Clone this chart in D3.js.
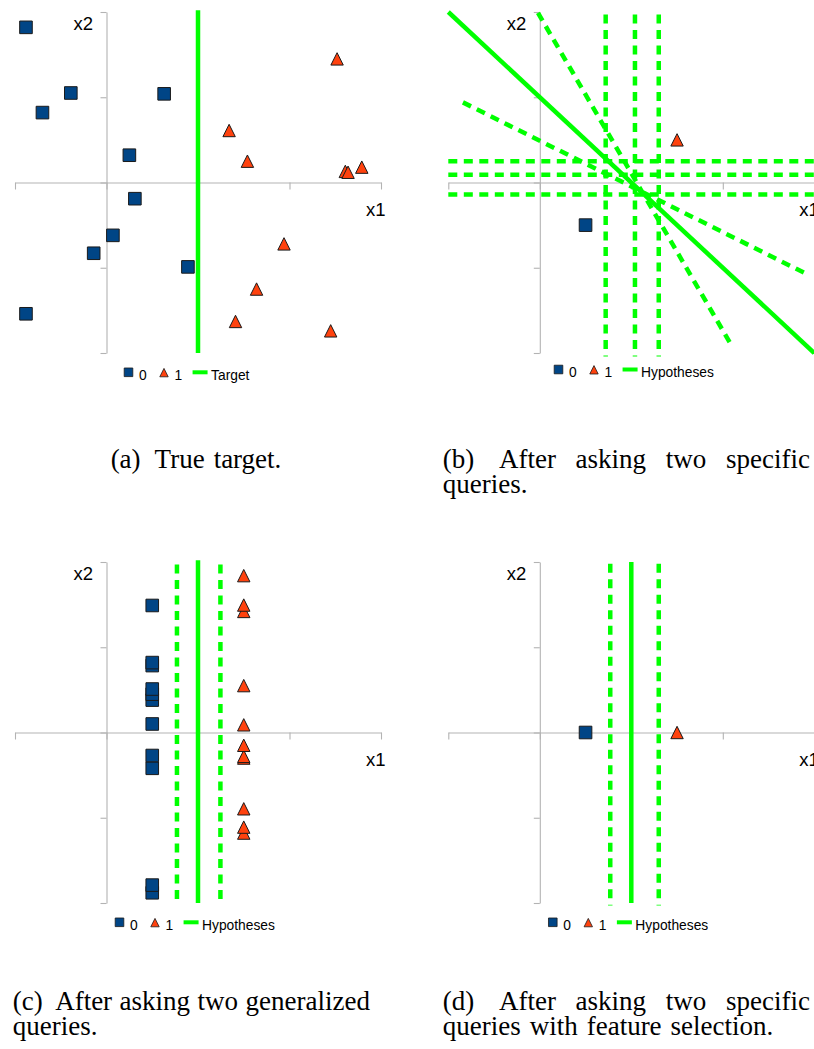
<!DOCTYPE html>
<html>
<head>
<meta charset="utf-8">
<script src="https://cdn.jsdelivr.net/npm/d3@7"></script>
<style>
  html, body { margin: 0; padding: 0; background: #fff; }
  svg { display: block; }
  .axis-label { font-family: "Liberation Sans", Arial, sans-serif; font-size: 18.5px; fill: #000; }
  .legend-text { font-family: "Liberation Sans", Arial, sans-serif; font-size: 13.8px; fill: #000; }
  .cap { font-family: "Liberation Serif", "Times New Roman", serif; font-size: 27px; fill: #000; }
</style>
</head>
<body>
<svg id="fig" width="814" height="1049"></svg>
<script>
// ---------- data ----------
const axisTicksX = [-1, 0, 1, 2, 3];
const axisTicksY = [-2, -1, 0, 1, 2];
const classLabels = ["0", "1"];
const axisNames = ["x1", "x2"];

// (a) true target: labelled points and the target boundary x1 = 1
const targetClass0 = [[-0.88, 1.82], [-0.39, 1.05], [-0.70, 0.82], [0.63, 1.04], [0.25, 0.32],
                      [0.31, -0.19], [0.07, -0.62], [-0.14, -0.83], [0.89, -0.99], [-0.88, -1.54]];
const targetClass1 = [[2.52, 1.45], [1.34, 0.61], [1.54, 0.25], [2.61, 0.13], [2.64, 0.12],
                      [2.79, 0.18], [1.94, -0.72], [1.64, -1.25], [1.41, -1.63], [2.45, -1.74]];
const targetSolid = [[1, 2.02, 1, -2]];
const targetDashed = [];

// (b) two specific queries: many consistent hypotheses remain
const specificClass0 = [[0.5, -0.5]];
const specificClass1 = [[1.5, 0.5]];
const specificSolid = [[-1, 2, 3, -2]];
const specificDashed = [
  [0.72, 1.97, 0.72, -2.04], [1.04, 1.97, 1.04, -2.04], [1.30, 1.97, 1.30, -2.04],
  [-1, 0.25, 3, 0.25], [-1, 0.09, 3, 0.09], [-1, -0.14, 3, -0.14],
  [-0.02, 1.99, 2.10, -1.92], [-0.84, 0.94, 2.91, -1.07]
];

// (c) two generalized queries (listed bottom-up so upper markers sit on top)
const generalizedClass0 = [[0.5, -1.88], [0.5, -1.79], [0.5, -0.42], [0.5, -0.27], [0.5, 0.10],
                           [0.5, 0.38], [0.5, 0.45], [0.5, 0.51], [0.5, 0.785], [0.5, 0.82], [0.5, 1.49]];
const generalizedClass1 = [[1.5, -1.18], [1.5, -1.11], [1.5, -0.895], [1.5, -0.30], [1.5, -0.28],
                           [1.5, -0.15], [1.5, 0.09], [1.5, 0.55], [1.5, 1.42], [1.5, 1.495], [1.5, 1.84]];
const generalizedSolid = [[1.0, 2.02, 1.0, -2]];
const generalizedDashed = [[0.77, 1.97, 0.77, -2.03], [1.245, 1.97, 1.245, -2.03]];

// (d) two specific queries with feature selection
const featureClass0 = [[0.5, 0]];
const featureClass1 = [[1.5, 0]];
const featureSolid = [[1.0, 2.0, 1.0, -2]];
const featureDashed = [[0.77, 1.98, 0.77, -2.03], [1.30, 1.98, 1.30, -2.03]];

const legendLineLabels = ["Target", "Hypotheses", "Hypotheses", "Hypotheses"];

const captionA = [["(a)", "True", "target."]];
const captionB = [["(b)", "After", "asking", "two", "specific"], ["queries."]];
const captionC = [["(c)", "After", "asking", "two", "generalized"], ["queries."]];
const captionD = [["(d)", "After", "asking", "two", "specific"], ["queries", "with", "feature", "selection."]];

// ---------- drawing ----------
const COLORS = { c0: "#004586", c1: "#ff420e", hyp: "#00ff00", axis: "#b3b3b3", edge: "#1a1a1a" };

const svg = d3.select("#fig");
const x = d3.scaleLinear().domain([-1, 3]).range([15, 381]);
const y = d3.scaleLinear().domain([-2, 2]).range([353, 12]);

const squarePath = s => d3.symbol(d3.symbolSquare, s * s)();
const trianglePath = s => { const h = s / 2; return `M0,${-h}L${h},${h}L${-h},${h}Z`; };

const panels = [
  { dx: 0,     dy: 0,   c0: targetClass0,      c1: targetClass1,      solid: targetSolid,      dashed: targetDashed,      legendX: 124,   legendY: 372.3 },
  { dx: 433.3, dy: 0,   c0: specificClass0,    c1: specificClass1,    solid: specificSolid,    dashed: specificDashed,    legendX: 120.7, legendY: 369.5 },
  { dx: 0,     dy: 550, c0: generalizedClass0, c1: generalizedClass1, solid: generalizedSolid, dashed: generalizedDashed, legendX: 115,   legendY: 372.3 },
  { dx: 433.3, dy: 550, c0: featureClass0,     c1: featureClass1,     solid: featureSolid,     dashed: featureDashed,     legendX: 115,   legendY: 372.3 }
];

panels.forEach((p, pi) => {
  const g = svg.append("g").attr("transform", `translate(${p.dx},${p.dy})`);

  // axes crossing at the origin
  const gx = g.append("g").attr("transform", `translate(0,${y(0)})`)
    .call(d3.axisBottom(x).tickValues(axisTicksX).tickSize(7).tickSizeOuter(0).tickFormat(""));
  const gy = g.append("g").attr("transform", `translate(${x(0)},0)`)
    .call(d3.axisLeft(y).tickValues(axisTicksY).tickSize(6).tickSizeOuter(0).tickFormat(""));
  [gx, gy].forEach(a => a.selectAll("path, line").attr("stroke", COLORS.axis).attr("stroke-width", 1.1));

  g.append("text").attr("class", "axis-label")
    .attr("x", x(0) - 13.5).attr("y", 29.5).attr("text-anchor", "end").text(axisNames[1]);
  g.append("text").attr("class", "axis-label")
    .attr("x", x(3) - 15).attr("y", y(0) + 33).text(axisNames[0]);

  // hypothesis lines
  const seg = (sel, data, dashed) => sel.selectAll(null).data(data).join("line")
    .attr("x1", d => x(d[0])).attr("y1", d => y(d[1]))
    .attr("x2", d => x(d[2])).attr("y2", d => y(d[3]))
    .attr("stroke", COLORS.hyp).attr("stroke-width", 4.5)
    .attr("stroke-dasharray", dashed ? "9,6.5" : null);
  seg(g.append("g"), p.dashed, true);
  seg(g.append("g"), p.solid, false);

  // labelled points
  g.append("g").selectAll("path").data(p.c0).join("path")
    .attr("transform", d => `translate(${x(d[0])},${y(d[1])})`)
    .attr("d", squarePath(12.6))
    .attr("fill", COLORS.c0).attr("stroke", COLORS.edge).attr("stroke-width", 1);
  g.append("g").selectAll("path").data(p.c1).join("path")
    .attr("transform", d => `translate(${x(d[0])},${y(d[1])})`)
    .attr("d", trianglePath(12.4))
    .attr("fill", COLORS.c1).attr("stroke", COLORS.edge).attr("stroke-width", 1);

  // legend
  const lg = g.append("g").attr("transform", `translate(${p.legendX},${p.legendY})`);
  let cx = 0;
  lg.append("path").attr("transform", `translate(${cx + 4.5},0)`).attr("d", squarePath(8.6))
    .attr("fill", COLORS.c0).attr("stroke", COLORS.edge).attr("stroke-width", 0.8);
  cx += 9 + 6;
  let t = lg.append("text").attr("class", "legend-text").attr("x", cx).attr("y", 7.3).text(classLabels[0]);
  cx += t.node().getComputedTextLength() + 13;
  lg.append("path").attr("transform", `translate(${cx + 4.3},0.3)`).attr("d", trianglePath(8.4))
    .attr("fill", COLORS.c1).attr("stroke", COLORS.edge).attr("stroke-width", 0.8);
  cx += 8.7 + 6;
  t = lg.append("text").attr("class", "legend-text").attr("x", cx).attr("y", 7.3).text(classLabels[1]);
  cx += t.node().getComputedTextLength() + 10.5;
  lg.append("line").attr("x1", cx).attr("x2", cx + 15).attr("y1", 0).attr("y2", 0)
    .attr("stroke", COLORS.hyp).attr("stroke-width", 4);
  cx += 15 + 3.5;
  lg.append("text").attr("class", "legend-text").attr("x", cx).attr("y", 7.3).text(legendLineLabels[pi]);
});

// ---------- sub-figure captions ----------
const captionLayout = [
  { lines: captionA, align: "center",  center: 196,  baseline: 468 },
  { lines: captionB, align: "justify", x: 442.7, width: 367.3, baseline: 468 },
  { lines: captionC, align: "justify", x: 12.7,  width: 357.3, baseline: 1010 },
  { lines: captionD, align: "justify", x: 442.7, width: 367.3, baseline: 1010 }
];
const captionLeading = 25;

captionLayout.forEach(cap => {
  cap.lines.forEach((words, li) => {
    const baseline = cap.baseline + li * captionLeading;
    const nodes = words.map(w => svg.append("text").attr("class", "cap").attr("y", baseline).text(w));
    const widths = nodes.map(n => n.node().getComputedTextLength());
    const gaps = words.slice(1).map((w, i) => (i === 0 && /^\(.\)$/.test(words[0])) ? 14 : 9);
    const natural = d3.sum(widths) + d3.sum(gaps);
    let start = cap.x, extra = 0;
    if (cap.align === "center") start = cap.center - natural / 2;
    if (cap.align === "justify" && li < cap.lines.length - 1 && gaps.length)
      extra = Math.max(-3, (cap.width - natural) / gaps.length);
    let px = start;
    nodes.forEach((n, i) => {
      n.attr("x", px);
      px += widths[i] + (i < gaps.length ? gaps[i] + extra : 0);
    });
  });
});
</script>
</body>
</html>
